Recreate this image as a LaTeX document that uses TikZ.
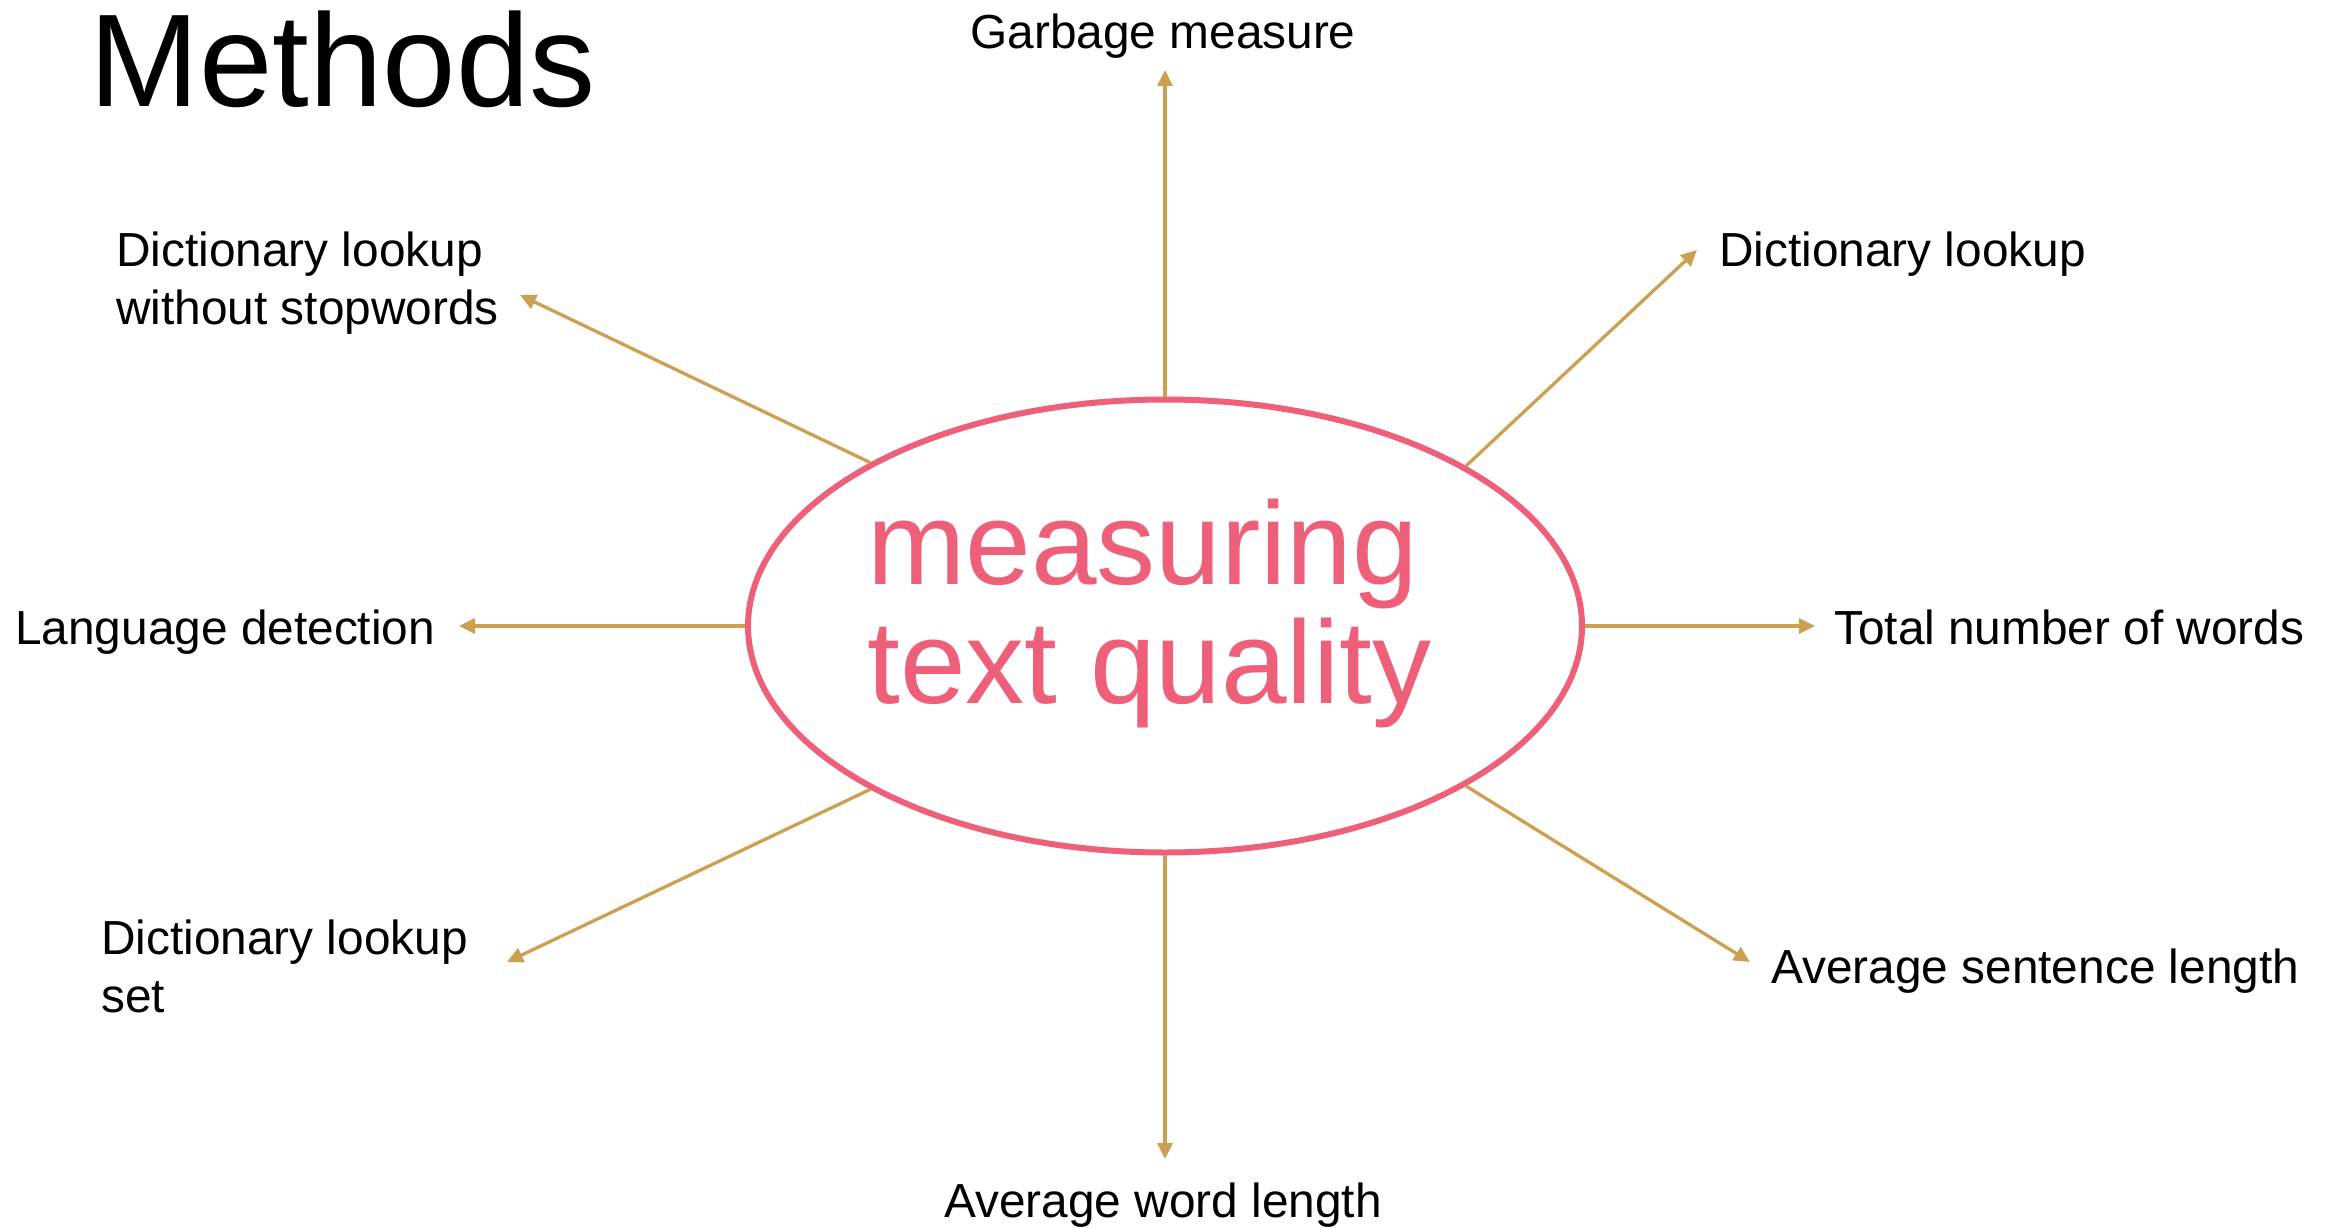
\documentclass[tikz,border=0pt]{standalone}
\usepackage{fontspec}
\setmainfont{Liberation Sans}
\usetikzlibrary{arrows.meta,shapes.geometric}
\definecolor{rosepink}{RGB}{238,96,122}
\definecolor{goldline}{RGB}{204,160,80}
\begin{document}
\begin{tikzpicture}[x=1pt,y=-1pt,
  lbl/.style={inner sep=0pt, anchor=base west, font=\fontsize{47.8}{58}\selectfont, align=left},
  conn/.style={draw=goldline, line width=3.3pt, -{Triangle[length=16pt,width=15pt]}}]
\useasboundingbox (0,0) rectangle (2336,1228);
\node[ellipse, draw=rosepink, line width=6pt, minimum width=834pt, minimum height=453pt, inner sep=0pt] (c) at (1165,626) {};
\node[inner sep=0pt, anchor=base west, align=left, text=rosepink, font=\fontsize{118}{119}\selectfont] (t) at (867,703) {measuring\\text quality};
\node[inner sep=0pt, anchor=base west, font=\fontsize{132}{133}\selectfont] (title) at (89,107) {Methods};
\node[lbl, anchor=base] (garb) at (1163,49) {Garbage measure};
\node[lbl] (dlr) at (1719,266) {Dictionary lookup};
\node[lbl] (dls) at (116,324) {Dictionary lookup\\without stopwords};
\node[lbl] (lang) at (15,644) {Language detection};
\node[lbl] (total) at (1834,644) {Total number of words};
\node[lbl] (dset) at (101,1012) {Dictionary lookup\\set};
\node[lbl] (asl) at (1771,983) {Average sentence length};
\node[lbl, anchor=base] (awl) at (1163,1217) {Average word length};
\coordinate (tg) at (1165,70);
\coordinate (tdr) at (1697,250);
\coordinate (tds) at (520,295);
\coordinate (tl) at (459,626);
\coordinate (tt) at (1815,626);
\coordinate (tset) at (507,962);
\coordinate (tasl) at (1750,962);
\coordinate (tawl) at (1165,1159);
\draw[conn] (c.north) -- (tg);
\draw[conn] (c.28.7) -- (tdr);
\draw[conn] (c.151.3) -- (tds);
\draw[conn] (c.west) -- (tl);
\draw[conn] (c.east) -- (tt);
\draw[conn] (c.-151.3) -- (tset);
\draw[conn] (c.-28.7) -- (tasl);
\draw[conn] (c.south) -- (tawl);
\end{tikzpicture}
\end{document}
